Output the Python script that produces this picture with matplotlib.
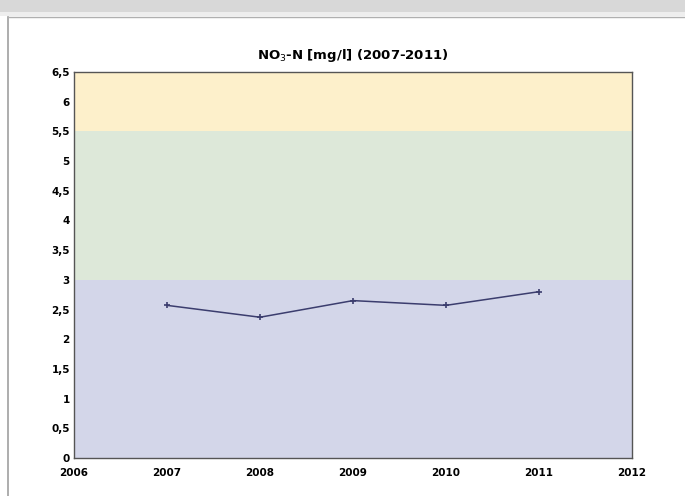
import matplotlib
matplotlib.use("Agg")
import matplotlib.pyplot as plt
from matplotlib.patches import Rectangle
from matplotlib.ticker import FuncFormatter

years = [2007, 2008, 2009, 2010, 2011]
no3_n = [2.57, 2.37, 2.65, 2.57, 2.80]

# background quality bands (lower, upper, colour)
band_edges = [0, 3, 5.5, 6.5]
band_colors = ["#d3d6e9", "#dde8d9", "#fdf0cb"]

title = "NO$_3$-N [mg/l] (2007-2011)"


def comma(v, pos):
    s = ("%g" % v)
    return s.replace(".", ",")


fig = plt.figure(figsize=(6.85, 4.96), dpi=100)

# screenshot frame: grey bar on top and panel border
fig.patches.append(Rectangle((0, 0.975), 1, 0.025, transform=fig.transFigure,
                             facecolor="#d8d8d8", edgecolor="none"))
fig.patches.append(Rectangle((0, 0.968), 1, 0.008, transform=fig.transFigure,
                             facecolor="#eeeeee", edgecolor="none"))
fig.add_artist(plt.Line2D([0.012, 0.012], [0, 0.965], transform=fig.transFigure,
                          color="#a0a0a0", lw=1.2))
fig.add_artist(plt.Line2D([0.012, 1], [0.965, 0.965], transform=fig.transFigure,
                          color="#b0b0b0", lw=1.0))

ax = fig.add_axes([0.108, 0.0766, 0.8146, 0.7784])
for lo, hi, c in zip(band_edges[:-1], band_edges[1:], band_colors):
    ax.axhspan(lo, hi, color=c, lw=0)

ax.plot(years, no3_n, color="#3b3d6e", lw=1.1, marker="+", ms=4, mew=1.2)

ax.set_xlim(2006, 2012)
ax.set_ylim(0, 6.5)
ax.set_xticks(range(2006, 2013))
ax.set_yticks([i * 0.5 for i in range(14)])
ax.yaxis.set_major_formatter(FuncFormatter(comma))
ax.tick_params(axis="y", length=0, labelsize=7.5, pad=3)
ax.tick_params(axis="x", length=0, labelsize=7.5, pad=7)
for lab in ax.get_xticklabels() + ax.get_yticklabels():
    lab.set_fontweight("bold")
for sp in ax.spines.values():
    sp.set_color("#555555")
    sp.set_linewidth(1.0)

ax.set_title(title, fontsize=9.5, fontweight="bold", pad=9)

fig.savefig("out.png", dpi=100)
